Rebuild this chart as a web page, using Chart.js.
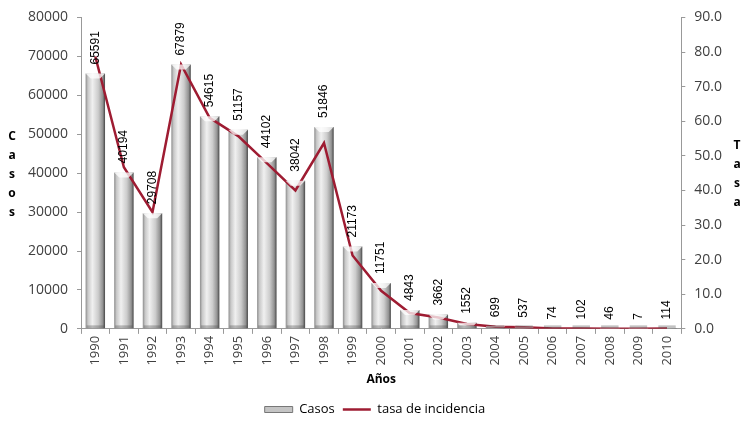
<!DOCTYPE html>
<html>
<head>
<meta charset="utf-8">
<script src="https://cdn.jsdelivr.net/npm/chart.js@4.4.1/dist/chart.umd.min.js"></script>
<style>
  html, body { margin: 0; padding: 0; background: #fff; }
  #wrap { width: 750px; height: 426px; position: relative; }
</style>
</head>
<body>
<div id="wrap"><canvas id="casosChart"></canvas></div>
<script>
// === DATA ===
const years = ['1990','1991','1992','1993','1994','1995','1996','1997','1998','1999','2000',
               '2001','2002','2003','2004','2005','2006','2007','2008','2009','2010'];
const casos = [65591, 40194, 29708, 67879, 54615, 51157, 44102, 38042, 51846, 21173, 11751,
               4843, 3662, 1552, 699, 537, 74, 102, 46, 7, 114];
const tasa = [78.7, 46.7, 33.7, 76.4, 61.0, 55.7, 47.9, 40.0, 53.7, 21.2, 11.0,
              4.6, 3.3, 1.4, 0.6, 0.5, 0.1, 0.1, 0.0, 0.0, 0.1];
const casosTicks = [0, 10000, 20000, 30000, 40000, 50000, 60000, 70000, 80000];
const tasaTicks = [0, 10, 20, 30, 40, 50, 60, 70, 80, 90];

const TXT = '#404040';
const LINE_RED = '#9e1c32';
const FONT = '"Open Sans", sans-serif';

// gradient for the cylinder look, built per bar from the x scale
function barFill(c) {
    const chart = c.chart, xs = chart.scales.x;
    if (!xs || !chart.chartArea || c.dataIndex === undefined) return '#bdbdbd';
    const cx = xs.getPixelForValue(c.dataIndex);
    const w = (xs.width / years.length) * 0.68;
    const g = chart.ctx.createLinearGradient(cx - w / 2, 0, cx + w / 2, 0);
    g.addColorStop(0, '#8c8c8c');
    g.addColorStop(0.12, '#c8c8c8');
    g.addColorStop(0.35, '#f0f0f0');
    g.addColorStop(0.65, '#cccccc');
    g.addColorStop(0.88, '#939393');
    g.addColorStop(1, '#464646');
    return g;
}

// bevel cap on top of each bar + rotated value labels + stacked axis titles
const barDecor = {
    id: 'barDecor',
    afterDatasetsDraw(chart) {
        const ctx = chart.ctx;
        const meta = chart.getDatasetMeta(1);
        ctx.save();
        meta.data.forEach(bar => {
            const w = bar.width, h = bar.base - bar.y;
            const cap = Math.min(5, h / 2);
            ctx.fillStyle = 'rgba(255,255,255,0.75)';
            ctx.beginPath();
            ctx.moveTo(bar.x - w / 2, bar.y);
            ctx.lineTo(bar.x + w / 2, bar.y);
            ctx.lineTo(bar.x + w / 2 - cap, bar.y + cap);
            ctx.lineTo(bar.x - w / 2 + cap, bar.y + cap);
            ctx.closePath();
            ctx.fill();
            ctx.fillStyle = 'rgba(80,80,80,0.35)';
            ctx.fillRect(bar.x - w / 2 + 1, bar.base - 3, w - 2, 3);
        });
        ctx.restore();
    },
    afterDraw(chart) {
        const ctx = chart.ctx;
        const meta = chart.getDatasetMeta(1);
        ctx.save();
        ctx.fillStyle = '#000';
        ctx.font = '12px "Liberation Sans", Arial, sans-serif';
        ctx.textAlign = 'left';
        ctx.textBaseline = 'middle';
        meta.data.forEach((bar, i) => {
            ctx.save();
            ctx.translate(bar.x, bar.y - 9);
            ctx.rotate(-Math.PI / 2);
            ctx.fillText(String(casos[i]), 0, 0);
            ctx.restore();
        });
        ctx.font = 'bold 12px ' + FONT;
        ctx.textAlign = 'center';
        'Casos'.split('').forEach((ch, k) => ctx.fillText(ch, 12, 137 + k * 19));
        'Tasa'.split('').forEach((ch, k) => ctx.fillText(ch, 737, 146 + k * 19));
        ctx.restore();
    }
};

const ctx = document.getElementById('casosChart').getContext('2d');
const chart = new Chart(ctx, {
    data: {
        labels: years,
        datasets: [
            { type: 'line', label: 'tasa de incidencia', data: tasa, yAxisID: 'y1',
              borderColor: LINE_RED, backgroundColor: LINE_RED, borderWidth: 2.5,
              pointRadius: 0, tension: 0, order: 0 },
            { type: 'bar', label: 'Casos', data: casos, yAxisID: 'y',
              backgroundColor: barFill, borderWidth: 0,
              barPercentage: 0.68, categoryPercentage: 1.0, order: 1 }
        ]
    },
    options: {
        responsive: true, maintainAspectRatio: false, animation: false,
        layout: { padding: { left: 19, right: 19, top: 16, bottom: 0 } },
        plugins: {
            tooltip: { enabled: false },
            legend: {
                position: 'bottom',
                labels: {
                    color: '#000', font: { family: FONT, size: 13 },
                    usePointStyle: true, boxHeight: 6, pointStyleWidth: 28, padding: 8,
                    generateLabels: ch => [
                        { text: 'Casos', fillStyle: '#c4c4c4', strokeStyle: '#777', lineWidth: 1,
                          pointStyle: 'rect', datasetIndex: 1 },
                        { text: 'tasa de incidencia', fillStyle: LINE_RED, strokeStyle: LINE_RED, lineWidth: 2.5,
                          pointStyle: 'line', datasetIndex: 0 }
                    ]
                }
            }
        },
        scales: {
            x: {
                offset: true,
                grid: { offset: true, drawOnChartArea: false, color: '#999', tickLength: 5 },
                border: { color: '#999' },
                ticks: { color: TXT, minRotation: 90, maxRotation: 90, padding: 2,
                         font: { family: FONT, size: 13 } },
                title: { display: true, text: 'Años', color: '#000', padding: { top: 5, bottom: 8 },
                         font: { family: FONT, size: 12, weight: 'bold' } }
            },
            y: {
                position: 'left', min: 0, max: 80000,
                afterBuildTicks: s => { s.ticks = casosTicks.map(v => ({ value: v })); },
                grid: { drawOnChartArea: false, color: '#999', tickLength: 4 },
                border: { color: '#999' },
                ticks: { color: TXT, padding: 9, callback: v => String(v),
                         font: { family: FONT, size: 14 } }
            },
            y1: {
                position: 'right', min: 0, max: 90,
                afterBuildTicks: s => { s.ticks = tasaTicks.map(v => ({ value: v })); },
                grid: { drawOnChartArea: false, color: '#999', tickLength: 4 },
                border: { color: '#999' },
                ticks: { color: TXT, padding: 9, callback: v => v.toFixed(1),
                         font: { family: FONT, size: 14 } }
            }
        }
    },
    plugins: [barDecor]
});
</script>
</body>
</html>
